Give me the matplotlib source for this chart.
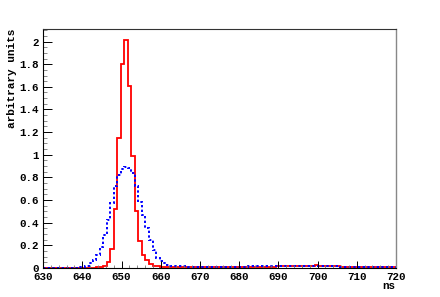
import numpy as np
import matplotlib
matplotlib.use("Agg")
import matplotlib.pyplot as plt
from matplotlib.ticker import MultipleLocator

# histogram range: 100 bins over 630-720 ns
x_lo, x_hi, n_bins = 630, 720, 100

# red (solid) histogram contents, bin by bin
red = [
    0.001, 0.001, 0.001, 0.001, 0.001, 0.001, 0.001, 0.001, 0.001, 0.001,
    0.001, 0.002, 0.002, 0.003, 0.003, 0.004, 0.006, 0.015, 0.053, 0.17,
    0.517, 1.15, 1.805, 2.01, 1.61, 0.99, 0.50, 0.236, 0.112, 0.068,
    0.03, 0.02, 0.015, 0.012, 0.01, 0.01, 0.009, 0.009, 0.008, 0.008,
    0.008, 0.007, 0.007, 0.007, 0.007, 0.006, 0.006, 0.006, 0.006, 0.006,
    0.006, 0.006, 0.006, 0.007, 0.007, 0.007, 0.007, 0.008, 0.008, 0.009,
    0.009, 0.01, 0.01, 0.011, 0.012, 0.012, 0.013, 0.013, 0.014, 0.015,
    0.015, 0.016, 0.017, 0.018, 0.019, 0.02, 0.021, 0.022, 0.021, 0.02,
    0.019, 0.017, 0.015, 0.013, 0.012, 0.01, 0.009, 0.008, 0.008, 0.007,
    0.007, 0.006, 0.006, 0.005, 0.005, 0.005, 0.004, 0.004, 0.004, 0.004,
]

# blue (dotted) histogram contents
blue = [
    0.001, 0.001, 0.001, 0.001, 0.001, 0.001, 0.002, 0.002, 0.002, 0.003,
    0.004, 0.008, 0.015, 0.04, 0.068, 0.112, 0.186, 0.29, 0.42, 0.57,
    0.72, 0.82, 0.87, 0.894, 0.88, 0.84, 0.72, 0.58, 0.47, 0.35,
    0.245, 0.157, 0.086, 0.06, 0.044, 0.025, 0.02, 0.017, 0.015, 0.014,
    0.013, 0.012, 0.012, 0.011, 0.011, 0.01, 0.01, 0.01, 0.01, 0.01,
    0.01, 0.01, 0.01, 0.011, 0.011, 0.011, 0.012, 0.012, 0.013, 0.013,
    0.014, 0.014, 0.015, 0.015, 0.016, 0.016, 0.017, 0.017, 0.018, 0.018,
    0.018, 0.018, 0.019, 0.019, 0.019, 0.019, 0.018, 0.018, 0.017, 0.017,
    0.016, 0.015, 0.014, 0.013, 0.012, 0.011, 0.01, 0.01, 0.009, 0.009,
    0.008, 0.008, 0.007, 0.007, 0.007, 0.006, 0.006, 0.006, 0.005, 0.005,
]

edges = np.linspace(x_lo, x_hi, n_bins + 1)

plt.rcParams['font.family'] = ['Liberation Mono', 'DejaVu Sans Mono']
plt.rcParams['font.weight'] = 'bold'

fig = plt.figure(figsize=(4.4, 2.97), dpi=100)
ax = fig.add_axes([0.098, 0.098, 0.802, 0.804])

ax.stairs(red, edges, color='#ff0000', lw=1.3)
ax.stairs(blue, edges, color='#0000ff', lw=1.4, linestyle=(0, (1.2, 1.2)))

ax.set_xlim(x_lo, x_hi)
ax.set_ylim(0, 2.11)

ax.xaxis.set_major_locator(MultipleLocator(10))
ax.xaxis.set_minor_locator(MultipleLocator(2))
ax.yaxis.set_minor_locator(MultipleLocator(0.05))
ax.set_yticks(np.arange(0, 2.01, 0.2))
ax.set_yticklabels(['0', '0.2', '0.4', '0.6', '0.8', '1', '1.2', '1.4', '1.6', '1.8', '2'])

ax.tick_params(axis='both', which='both', direction='in', labelsize=7.8)
ax.tick_params(axis='x', which='major', length=5, width=0.7, pad=3)
ax.tick_params(axis='x', which='minor', length=2.5, width=0.6, color='#777777')
ax.tick_params(axis='y', which='major', length=6.5, width=0.7, pad=3)
ax.tick_params(axis='y', which='minor', length=3.2, width=0.6, color='#777777')
for lab in ax.get_xticklabels() + ax.get_yticklabels():
    lab.set_fontweight('bold')

for s in ['left', 'bottom', 'top']:
    ax.spines[s].set_linewidth(0.8)
ax.spines['top'].set_color('#333333')
ax.spines['right'].set_color('#888888')
ax.spines['right'].set_linewidth(1.0)

fig.text(0.027, 0.902, 'arbitrary units', rotation=90, ha='center', va='top',
         fontsize=8, fontweight='bold')
fig.text(0.898, 0.038, 'ns', ha='right', va='center', fontsize=7.8, fontweight='bold')

fig.savefig('out.png', dpi=100)
